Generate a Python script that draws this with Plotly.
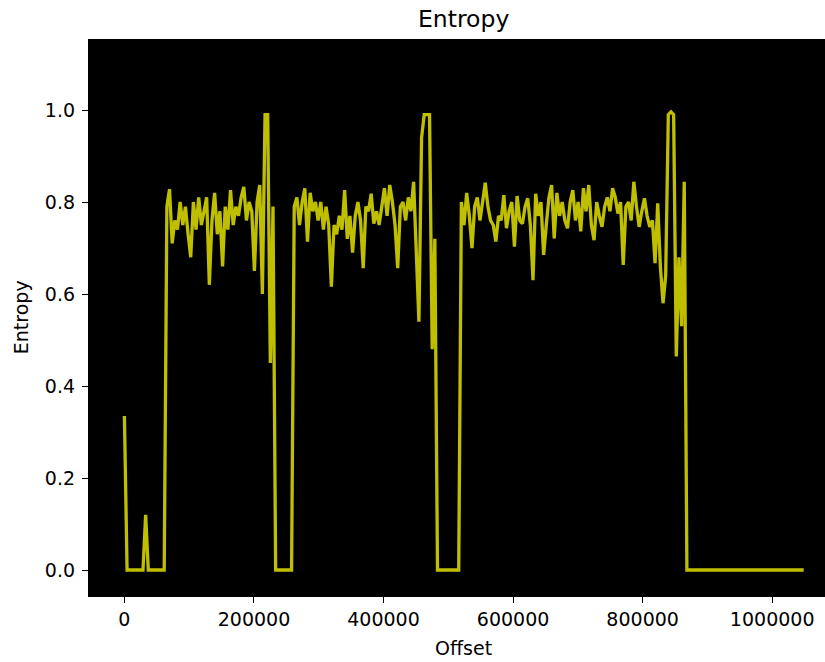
import numpy as np
import plotly.graph_objects as go

BLOCK = 4096  # bytes per entropy sample

entropy = [
    # 0 - 15
    0.335, 0, 0, 0, 0, 0, 0, 0, 0.12, 0, 0, 0, 0, 0, 0, 0,
    # 16 - 56
    0.79, 0.828, 0.71, 0.76, 0.74, 0.80, 0.75, 0.79, 0.73, 0.68,
    0.80, 0.74, 0.81, 0.75, 0.78, 0.81, 0.62, 0.76, 0.82, 0.73,
    0.78, 0.66, 0.79, 0.74, 0.826, 0.75, 0.79, 0.77, 0.81, 0.833,
    0.76, 0.80, 0.78, 0.65, 0.80, 0.837, 0.60, 0.99, 0.99, 0.45,
    0.79,
    # 57 - 63
    0, 0, 0, 0, 0, 0, 0,
    # 64 - 117
    0.79, 0.81, 0.75, 0.80, 0.83, 0.714, 0.82, 0.78, 0.80, 0.76,
    0.80, 0.74, 0.79, 0.75, 0.616, 0.75, 0.73, 0.77, 0.74, 0.826,
    0.72, 0.77, 0.69, 0.77, 0.80, 0.76, 0.656, 0.79, 0.78, 0.818,
    0.753, 0.78, 0.75, 0.79, 0.83, 0.77, 0.837, 0.80, 0.75, 0.656,
    0.79, 0.80, 0.76, 0.81, 0.78, 0.844, 0.70, 0.54, 0.94, 0.99,
    0.99, 0.99, 0.48, 0.72,
    # 118 - 126
    0, 0, 0, 0, 0, 0, 0, 0, 0,
    # 127 - 211
    0.80, 0.75, 0.82, 0.77, 0.70, 0.79, 0.81, 0.76, 0.80, 0.842,
    0.79, 0.76, 0.75, 0.714, 0.77, 0.76, 0.815, 0.743, 0.78, 0.80,
    0.703, 0.813, 0.76, 0.753, 0.79, 0.808, 0.75, 0.63, 0.818, 0.77,
    0.80, 0.685, 0.75, 0.81, 0.837, 0.721, 0.82, 0.77, 0.80, 0.76,
    0.743, 0.80, 0.826, 0.76, 0.80, 0.736, 0.83, 0.78, 0.837, 0.75,
    0.717, 0.80, 0.77, 0.746, 0.79, 0.81, 0.78, 0.83, 0.81, 0.775,
    0.80, 0.663, 0.79, 0.80, 0.76, 0.844, 0.79, 0.746, 0.78, 0.808,
    0.77, 0.746, 0.76, 0.667, 0.797, 0.66, 0.58, 0.64, 0.99, 0.996,
    0.99, 0.464, 0.68, 0.53, 0.844,
    # 212 - 256
    0, 0, 0, 0, 0, 0, 0, 0, 0, 0,
    0, 0, 0, 0, 0, 0, 0, 0, 0, 0,
    0, 0, 0, 0, 0, 0, 0, 0, 0, 0,
    0, 0, 0, 0, 0, 0, 0, 0, 0, 0,
    0, 0, 0, 0, 0,
]
offsets = np.arange(len(entropy)) * BLOCK

x_ticks = [0, 200000, 400000, 600000, 800000, 1000000]
x_tick_labels = ["0", "200000", "400000", "600000", "800000", "1000000"]
y_ticks = [0.0, 0.2, 0.4, 0.6, 0.8, 1.0]
y_tick_labels = ["0.0", "0.2", "0.4", "0.6", "0.8", "1.0"]

FONT = "DejaVu Sans"

fig = go.Figure()
fig.add_trace(go.Scatter(
    x=offsets, y=entropy, mode="lines",
    line=dict(color="#bfbf00", width=3.3),
    hoverinfo="x+y",
))

fig.update_layout(
    width=825, height=662,
    margin=dict(l=89, r=0, t=39, b=66, autoexpand=False),
    paper_bgcolor="white",
    plot_bgcolor="black",
    showlegend=False,
    font=dict(family=FONT, size=19, color="black"),
    xaxis=dict(
        range=[-54670, 1081540],
        tickmode="array", tickvals=x_ticks, ticktext=x_tick_labels,
        ticks="outside", ticklen=6, tickwidth=1.3, tickcolor="black",
        showgrid=False, zeroline=False, automargin=False,
        showline=True, linecolor="black", linewidth=1.3,
        tickfont=dict(family=FONT, size=19, color="black"),
    ),
    yaxis=dict(
        range=[-0.0565, 1.1544],
        tickmode="array", tickvals=y_ticks, ticktext=y_tick_labels,
        ticks="outside", ticklen=6, tickwidth=1.3, tickcolor="black",
        ticklabelstandoff=3,
        showgrid=False, zeroline=False, automargin=False,
        showline=True, linecolor="black", linewidth=1.3,
        tickfont=dict(family=FONT, size=19, color="black"),
    ),
    annotations=[
        dict(text="Entropy", xref="paper", yref="paper", x=0.5086, y=1.0359,
             xanchor="center", yanchor="middle", showarrow=False,
             font=dict(family=FONT, size=23.5, color="black")),
        dict(text="Offset", xref="paper", yref="paper", x=0.5086, y=-0.0934,
             xanchor="center", yanchor="middle", showarrow=False,
             font=dict(family=FONT, size=19, color="black")),
        dict(text="Entropy", xref="paper", yref="paper", x=-0.0928, y=0.5,
             xanchor="center", yanchor="middle", showarrow=False, textangle=-90,
             font=dict(family=FONT, size=19, color="black")),
    ],
)

fig.write_html(
    "out.html",
    config={"displayModeBar": False},
    post_script="document.body.style.margin='0px';"
                "document.body.style.overflow='hidden';"
                "document.documentElement.style.overflow='hidden';",
)
